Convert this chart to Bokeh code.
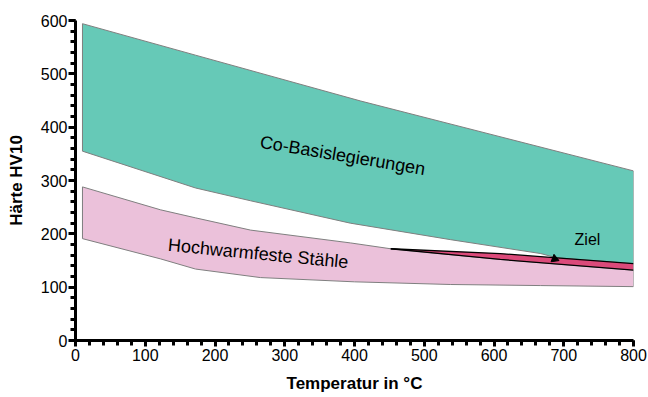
from bokeh.plotting import figure
from bokeh.models import Range1d, FixedTicker
from bokeh.core.properties import value
from bokeh.embed import file_html
from bokeh.resources import INLINE

# --- data ---
co_upper_x = [10, 172, 409, 600, 800]
co_upper_y = [594, 535, 449, 385, 318]
co_lower_x = [10, 172, 251, 394, 538, 667, 690, 800]
co_lower_y = [355, 286, 262, 220, 189, 163, 155, 144]

st_upper_x = [10, 122, 172, 251, 394, 452, 609, 800]
st_upper_y = [288, 245, 230, 207, 183, 172, 152, 132]
st_lower_x = [10, 122, 172, 265, 400, 538, 667, 800]
st_lower_y = [191, 153, 134, 118, 110, 105, 103, 101]

ziel_upper_x = [452, 609, 690, 800]
ziel_upper_y = [172, 163, 155, 144]
ziel_lower_x = [452, 609, 800]
ziel_lower_y = [172, 152, 132]

ziel_mark_x = [687]
ziel_mark_y = [153]

x_ticks = [0, 100, 200, 300, 400, 500, 600, 700, 800]
y_ticks = [0, 100, 200, 300, 400, 500, 600]

labels = ["Co-Basislegierungen", "Hochwarmfeste Stähle", "Ziel"]
label_x = [383, 262, 734]
label_y = [347, 163, 189]

FONT = "Liberation Sans"

p = figure(width=648, height=397, output_backend="svg", toolbar_location=None,
           x_range=Range1d(0, 800), y_range=Range1d(0, 600),
           min_border_left=75, min_border_right=15, min_border_top=20,
           min_border_bottom=57)
p.outline_line_color = None
p.grid.grid_line_color = None
p.background_fill_color = "white"

# Co-Basislegierungen band
p.patch(co_upper_x + co_lower_x[::-1], co_upper_y + co_lower_y[::-1],
        fill_color="#66C9B7", line_color="#7f7f7f", line_width=1)
# Hochwarmfeste Stähle band
p.patch(st_upper_x + st_lower_x[::-1], st_upper_y + st_lower_y[::-1],
        fill_color="#EBC1DA", line_color="#7f7f7f", line_width=1)
# Ziel region
p.patch(ziel_upper_x + ziel_lower_x[::-1], ziel_upper_y + ziel_lower_y[::-1],
        fill_color="#DB4A7A", line_color=None)
p.line(ziel_upper_x, ziel_upper_y, line_color="black", line_width=1.3)
p.line(ziel_lower_x, ziel_lower_y, line_color="black", line_width=1.3)
p.line([800, 800], [ziel_lower_y[-1], ziel_upper_y[-1]], line_color="#7f7f7f", line_width=1)

# labels
p.text(x=label_x[:1], y=label_y[:1], text=labels[:1], angle=-0.165,
       text_font=value(FONT), text_font_size="18px", text_align="center",
       text_baseline="middle", text_color="black")
p.text(x=label_x[1:2], y=label_y[1:2], text=labels[1:2], angle=-0.096,
       text_font=value(FONT), text_font_size="18px", text_align="center",
       text_baseline="middle", text_color="black")
p.text(x=label_x[2:], y=label_y[2:], text=labels[2:],
       text_font=value(FONT), text_font_size="16px", text_align="center",
       text_baseline="middle", text_color="black")

# small arrow head marking "Ziel"
p.scatter(ziel_mark_x, ziel_mark_y, marker="triangle", size=8,
          fill_color="black", line_color="black", angle=0.15)

# axes
for ax in (p.xaxis[0], p.yaxis[0]):
    ax.axis_line_width = 3
    ax.axis_line_color = "black"
    ax.major_tick_line_width = 3
    ax.minor_tick_line_width = 3
    ax.major_tick_in = 0
    ax.minor_tick_in = 0
    ax.major_label_text_font = FONT
    ax.major_label_text_font_size = "16px"
    ax.major_label_text_color = "black"
    ax.axis_label_text_font = FONT
    ax.axis_label_text_font_style = "bold"
    ax.axis_label_text_font_size = "17px"
    ax.axis_label_text_color = "black"

p.xaxis.ticker = FixedTicker(ticks=x_ticks, minor_ticks=list(range(0, 801, 20)))
p.yaxis.ticker = FixedTicker(ticks=y_ticks, minor_ticks=list(range(0, 601, 20)))
p.xaxis.major_tick_out = 6
p.xaxis.minor_tick_out = 5
p.yaxis.major_tick_out = 7
p.yaxis.minor_tick_out = 5
p.xaxis.major_label_standoff = 2
p.yaxis.major_label_standoff = 1
p.xaxis.axis_label = "Temperatur in °C"
p.yaxis.axis_label = "Härte HV10"
p.xaxis.axis_label_standoff = 10
p.yaxis.axis_label_standoff = 12

open("out.html", "w").write(file_html(p, INLINE))
